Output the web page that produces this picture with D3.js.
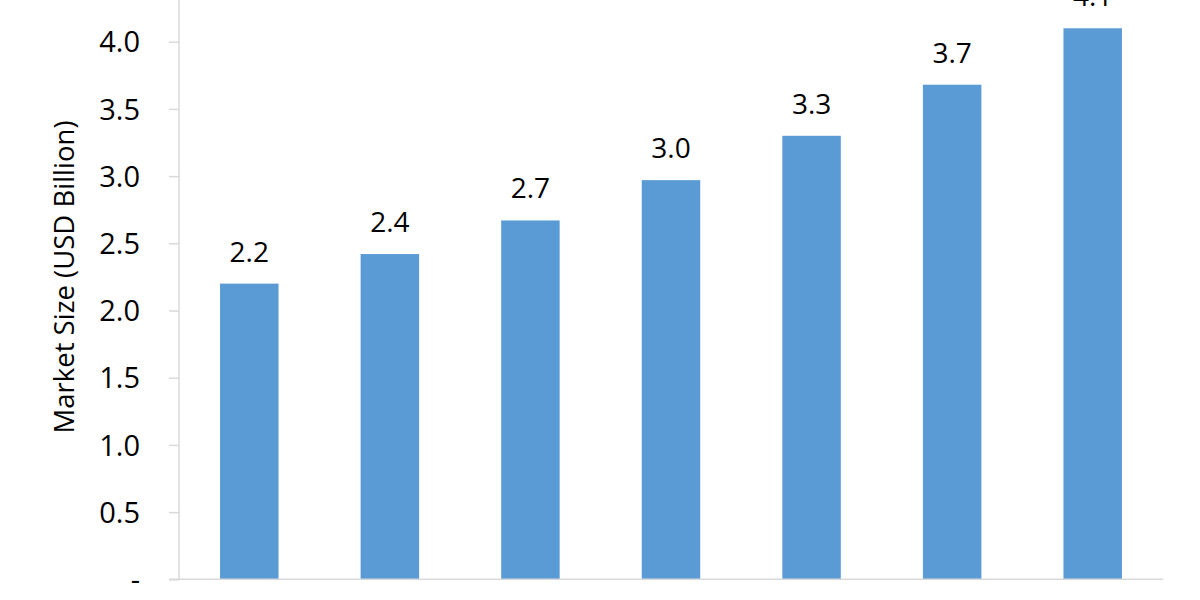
<!DOCTYPE html>
<html lang="en">
<head>
  <meta charset="UTF-8">
  <title>Market Size Bar Chart</title>
  <script src="https://d3js.org/d3.v7.min.js"></script>
  <style>
    body { margin: 0; background: #fff; }
    .tick text { font-family: "Open Sans", sans-serif; font-size: 29px; fill: #000; }
    .label { font-family: "Open Sans", sans-serif; font-size: 28px; fill: #000; text-anchor: middle; }
    .title { font-family: "Open Sans", sans-serif; font-size: 27.5px; fill: #000; text-anchor: middle; }
  </style>
</head>
<body>
  <svg id="chart" width="1200" height="600"></svg>
  <script>
    // years are not shown in the crop, just index the bars
    const categories = ["c1", "c2", "c3", "c4", "c5", "c6", "c7"];
    const values = [2.2, 2.42, 2.67, 2.97, 3.3, 3.68, 4.1];
    const labels = ["2.2", "2.4", "2.7", "3.0", "3.3", "3.7", "4.1"];
    const yTicks = [0, 0.5, 1.0, 1.5, 2.0, 2.5, 3.0, 3.5, 4.0];

    const svg = d3.select("#chart");
    const left = 179, right = 1163, bottom = 579.3;

    const x = d3.scaleBand()
      .domain(categories)
      .range([left, right])
      .paddingInner(0.584)
      .paddingOuter(0.292);

    const y = d3.scaleLinear()
      .domain([0, 4])
      .range([bottom, 41.7]);

    // y axis
    const yAxis = svg.append("g")
      .attr("transform", `translate(${left},0)`)
      .call(d3.axisLeft(y)
        .tickValues(yTicks)
        .tickSize(10)
        .tickPadding(29)
        .tickFormat(d => d === 0 ? "-" : d3.format(".1f")(d)));
    yAxis.select(".domain").remove();
    yAxis.selectAll(".tick line").attr("stroke", "#d9d9d9").attr("stroke-width", 1.5);
    yAxis.selectAll(".tick text").attr("dy", "0.35em");

    svg.append("line")
      .attr("x1", left).attr("x2", left)
      .attr("y1", 0).attr("y2", bottom)
      .attr("stroke", "#d9d9d9").attr("stroke-width", 1.5);

    // bars
    svg.selectAll(".bar")
      .data(values)
      .enter()
      .append("rect")
      .attr("class", "bar")
      .attr("x", (d, i) => x(categories[i]))
      .attr("y", d => y(d))
      .attr("width", x.bandwidth())
      .attr("height", d => bottom - y(d))
      .attr("fill", "#5b9bd5");

    // baseline
    svg.append("line")
      .attr("x1", left - 10).attr("x2", right)
      .attr("y1", bottom).attr("y2", bottom)
      .attr("stroke", "#d9d9d9").attr("stroke-width", 1.5);

    // value labels
    svg.selectAll(".label")
      .data(values)
      .enter()
      .append("text")
      .attr("class", "label")
      .attr("x", (d, i) => x(categories[i]) + x.bandwidth() / 2)
      .attr("y", d => y(d) - 22)
      .text((d, i) => labels[i]);

    // axis title
    svg.append("text")
      .attr("class", "title")
      .attr("transform", "translate(74,277) rotate(-90)")
      .text("Market Size (USD Billion)");
  </script>
</body>
</html>
